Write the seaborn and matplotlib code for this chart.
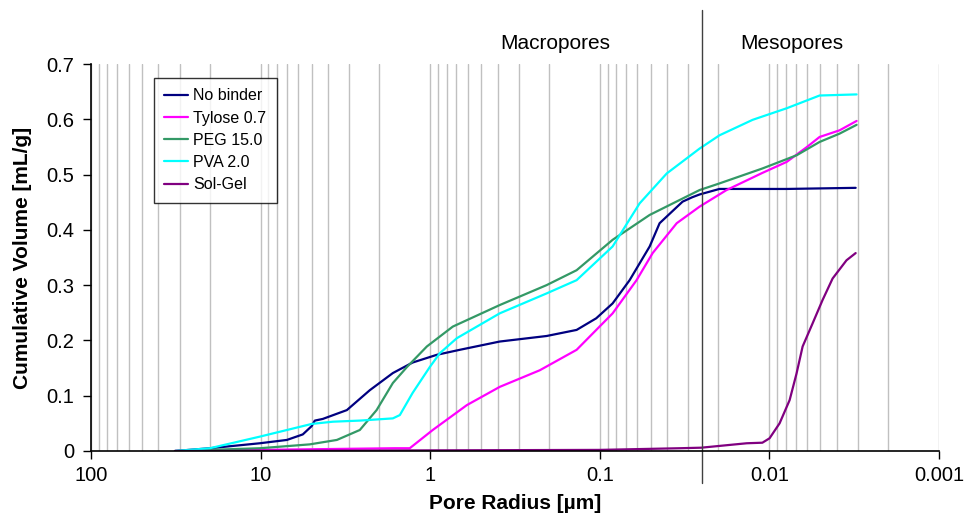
import matplotlib
matplotlib.use("Agg")
import matplotlib.pyplot as plt
from matplotlib.ticker import LogLocator, FixedLocator, NullFormatter
import seaborn as sns
import pandas as pd
import numpy as np

# ---- data (pore radius in µm, cumulative volume in mL/g) ----
nobinder_x = [32, 19.9, 10.1, 7.0, 5.64, 5.0, 4.79, 4.3, 3.1, 2.27, 1.66, 1.27, 0.914, 0.67,
              0.389, 0.206, 0.137, 0.105, 0.084, 0.0667, 0.0508, 0.0444, 0.0325, 0.0285,
              0.0258, 0.0197, 0.0079, 0.0031]
nobinder_y = [0, 0.005, 0.014, 0.020, 0.030, 0.045, 0.055, 0.058, 0.074, 0.110, 0.141, 0.160,
              0.174, 0.183, 0.198, 0.208, 0.219, 0.240, 0.267, 0.309, 0.370, 0.412, 0.451,
              0.459, 0.464, 0.474, 0.474, 0.476]

tylose_x = [32, 10.1, 2.98, 1.62, 1.32, 0.966, 0.608, 0.389, 0.226, 0.137, 0.084, 0.0607,
            0.0488, 0.0352, 0.0258, 0.0179, 0.011, 0.0079, 0.006, 0.00506, 0.00386, 0.00306]
tylose_y = [0, 0.002, 0.004, 0.005, 0.005, 0.038, 0.083, 0.116, 0.146, 0.183, 0.249, 0.309,
            0.358, 0.412, 0.442, 0.472, 0.503, 0.523, 0.550, 0.568, 0.580, 0.597]

peg_x = [32, 10.1, 5.13, 3.55, 2.6, 2.07, 1.66, 1.37, 1.047, 0.736, 0.389, 0.206, 0.137,
         0.084, 0.0508, 0.0258, 0.0197, 0.011, 0.0069, 0.00506, 0.00386, 0.00306]
peg_y = [0, 0.005, 0.012, 0.020, 0.038, 0.074, 0.123, 0.152, 0.189, 0.225, 0.264, 0.300,
         0.327, 0.382, 0.427, 0.472, 0.484, 0.511, 0.535, 0.559, 0.574, 0.590]

pva_x = [32, 19.9, 10.1, 4.99, 3.75, 2.6, 1.66, 1.51, 1.27, 1.005, 0.877, 0.697, 0.389,
         0.206, 0.137, 0.084, 0.0582, 0.0403, 0.0258, 0.0197, 0.01256, 0.0079, 0.00506,
         0.00306]
pva_y = [0, 0.005, 0.026, 0.049, 0.053, 0.055, 0.059, 0.065, 0.105, 0.152, 0.177, 0.204,
         0.249, 0.285, 0.309, 0.370, 0.448, 0.502, 0.547, 0.571, 0.599, 0.620, 0.643, 0.645]

solgel_x = [32, 1.51, 0.1, 0.0338, 0.0252, 0.0136, 0.011, 0.00998, 0.00871, 0.0076,
            0.00692, 0.00637, 0.00556, 0.00486, 0.00424, 0.00351, 0.0031]
solgel_y = [0, 0.001, 0.002, 0.005, 0.006, 0.014, 0.015, 0.023, 0.050, 0.092, 0.140, 0.189,
            0.231, 0.273, 0.312, 0.345, 0.358]

series_names = ["No binder", "Tylose 0.7", "PEG 15.0", "PVA 2.0", "Sol-Gel"]
series_x = [nobinder_x, tylose_x, peg_x, pva_x, solgel_x]
series_y = [nobinder_y, tylose_y, peg_y, pva_y, solgel_y]
colors = ["#000080", "#FF00FF", "#339966", "#00FFFF", "#800080"]

x_ticks = [100, 10, 1, 0.1, 0.01, 0.001]
x_ticklabels = ["100", "10", "1", "0.1", "0.01", "0.001"]
y_ticks = [0, 0.1, 0.2, 0.3, 0.4, 0.5, 0.6, 0.7]
y_ticklabels = ["0", "0.1", "0.2", "0.3", "0.4", "0.5", "0.6", "0.7"]
boundary = 0.025
region_labels = ["Macropores", "Mesopores"]

# ---- plot ----
sns.set_style("white")
plt.rcParams["font.family"] = ["Liberation Sans", "DejaVu Sans"]
plt.rcParams["text.color"] = "black"
plt.rcParams["axes.labelcolor"] = "black"
plt.rcParams["xtick.color"] = "black"
plt.rcParams["ytick.color"] = "black"

fig = plt.figure(figsize=(9.64, 5.15), dpi=100)
ax = fig.add_axes([91 / 964, 1 - 451 / 515, 848 / 964, 387 / 515])

frames = []
for name, xs, ys in zip(series_names, series_x, series_y):
    frames.append(pd.DataFrame({"radius": xs, "volume": ys, "sample": name}))
df = pd.concat(frames, ignore_index=True)

for name, c in zip(series_names, colors):
    sub = df[df["sample"] == name]
    sns.lineplot(data=sub, x="radius", y="volume", ax=ax, color=c, lw=1.6,
                 sort=False, estimator=None, label=name)

ax.set_xscale("log")
ax.set_xlim(100, 0.001)
ax.set_ylim(0, 0.7)

ax.xaxis.set_major_locator(FixedLocator(x_ticks))
ax.set_xticklabels(x_ticklabels)
ax.xaxis.set_minor_locator(LogLocator(base=10, subs=np.arange(2, 10)))
ax.xaxis.set_minor_formatter(NullFormatter())
ax.set_yticks(y_ticks)
ax.set_yticklabels(y_ticklabels)

ax.grid(True, which="both", axis="x", color="#c0c0c0", lw=1.0)
ax.grid(False, axis="y")
ax.set_axisbelow(True)

ax.tick_params(axis="both", which="major", direction="out", length=6, width=1,
               color="black", labelcolor="black", labelsize=14.5, bottom=True, left=True)
ax.tick_params(axis="x", which="major", pad=5)
ax.tick_params(axis="y", which="major", pad=6)
ax.tick_params(axis="x", which="minor", length=0)

for s in ["top", "right"]:
    ax.spines[s].set_visible(False)
for s in ["left", "bottom"]:
    ax.spines[s].set_color("black")
    ax.spines[s].set_linewidth(1.2)

ax.set_xlabel("Pore Radius [µm]", fontsize=15, fontweight="bold", labelpad=6,
              color="black")
ax.set_ylabel("Cumulative Volume [mL/g]", fontsize=15, fontweight="bold", labelpad=10,
              color="black")

ax.axvline(boundary, ymin=-0.083, ymax=1.14, clip_on=False, color="#404040", lw=1.0)
ax.text(0.547, 1.052, region_labels[0], transform=ax.transAxes, ha="center", va="center",
        fontsize=15, color="black")
ax.text(0.827, 1.052, region_labels[1], transform=ax.transAxes, ha="center", va="center",
        fontsize=15, color="black")

leg = ax.legend(loc="upper left", bbox_to_anchor=(154 / 964, 1 - 78 / 515),
                bbox_transform=fig.transFigure, borderaxespad=0, fontsize=11.5,
                handlelength=1.5, labelspacing=0.45, frameon=True, fancybox=False,
                handletextpad=0.3, borderpad=0.65)
leg.get_frame().set_edgecolor("black")
leg.get_frame().set_linewidth(1.0)
leg.get_frame().set_facecolor("white")
for t in leg.get_texts():
    t.set_color("black")
for line in leg.get_lines():
    line.set_linewidth(1.6)

fig.savefig("out.png", dpi=100)
